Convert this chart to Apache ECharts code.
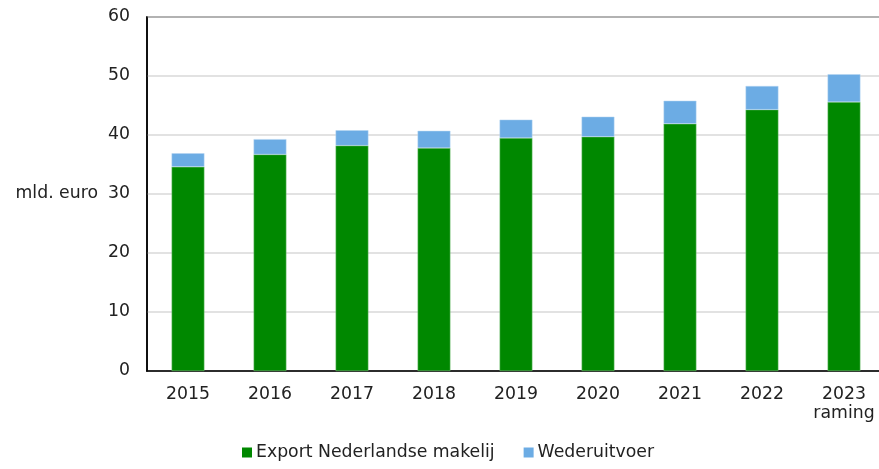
<!DOCTYPE html>
<html>
<head>
<meta charset="utf-8">
<script src="https://cdn.jsdelivr.net/npm/echarts@6/dist/echarts.min.js"></script>
<style>
  html, body { margin: 0; padding: 0; background: #fff; }
  #chart { width: 879px; height: 469px; }
</style>
</head>
<body>
<div id="chart"></div>
<script>
var years = ['2015', '2016', '2017', '2018', '2019', '2020', '2021', '2022', '2023\nraming'];
var exportNL = [34.6, 36.7, 38.2, 37.8, 39.5, 39.7, 41.9, 44.3, 45.6];
var wederuitvoer = [2.3, 2.6, 2.6, 2.9, 3.1, 3.4, 3.9, 4.0, 4.7];
var yTicks = { min: 0, max: 60, interval: 10 };

var chartobj = echarts.init(document.getElementById('chart'));
var fontFam = 'DejaVu Sans, Verdana, sans-serif';
var fs = 17.3;
var option = {
    animation: false,
    textStyle: { fontFamily: fontFam },
    grid: {
        left: 147,
        width: 738,
        top: 17,
        bottom: 98,
        containLabel: false,
        outerBoundsMode: 'none',
        show: true,
        borderColor: '#000',
        borderWidth: 1.5
    },
    legend: {
        bottom: 3,
        left: 237,
        itemWidth: 10,
        itemHeight: 10,
        itemGap: 29,
        icon: 'rect',
        itemStyle: { borderWidth: 0 },
        textStyle: { fontSize: fs, color: '#222', fontFamily: fontFam, padding: [0, 0, 0, -1] },
        data: ['Export Nederlandse makelij', 'Wederuitvoer']
    },
    xAxis: {
        type: 'category',
        data: years,
        axisLine: { lineStyle: { color: '#000', width: 1.5 } },
        axisTick: { show: false },
        axisLabel: {
            fontSize: fs,
            color: '#222',
            margin: 14,
            lineHeight: 19,
            fontFamily: fontFam
        }
    },
    yAxis: {
        type: 'value',
        min: yTicks.min,
        max: yTicks.max,
        interval: yTicks.interval,
        name: 'mld. euro',
        nameLocation: 'middle',
        nameRotate: 0,
        nameGap: 49,
        nameTextStyle: { fontSize: fs, color: '#222', align: 'right', fontFamily: fontFam, padding: [4, 0, 0, 0] },
        axisLine: { show: true, lineStyle: { color: '#000', width: 1.5 } },
        axisTick: { show: false },
        axisLabel: { fontSize: fs, color: '#222', margin: 17, fontFamily: fontFam },
        splitLine: { lineStyle: { color: '#d9d9d9', width: 1.5 } }
    },
    series: [
        {
            name: 'Export Nederlandse makelij',
            type: 'bar',
            stack: 'totaal',
            barWidth: '40%',
            data: exportNL,
            itemStyle: { color: '#008800', borderColor: '#7fc47f', borderWidth: 0.5 }
        },
        {
            name: 'Wederuitvoer',
            type: 'bar',
            stack: 'totaal',
            barWidth: '40%',
            data: wederuitvoer,
            itemStyle: { color: '#6cace4', borderColor: '#b5d5f1', borderWidth: 0.5 }
        }
    ]
};
chartobj.setOption(option);
</script>
</body>
</html>
